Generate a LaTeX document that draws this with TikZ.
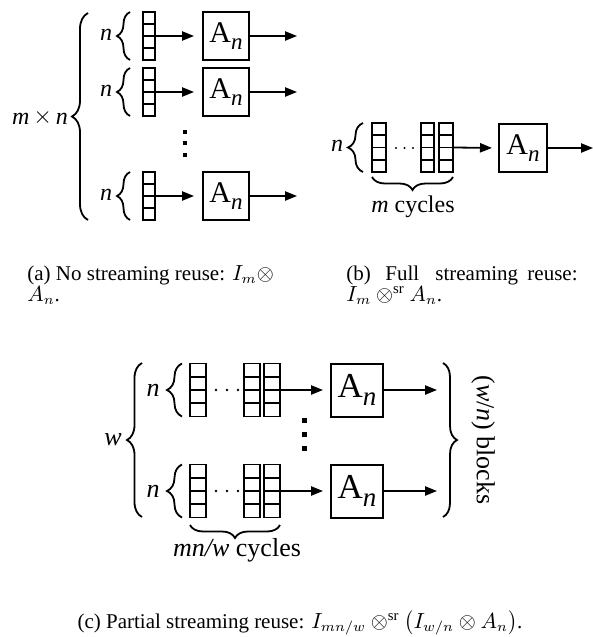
\documentclass[tikz,border=0pt]{standalone}
\usepackage{fontspec}
\setmainfont{Liberation Serif}
\usetikzlibrary{decorations.pathreplacing,arrows.meta,calc}
\tikzset{
  brc/.style={decorate,decoration={brace,amplitude=#1},line width=0.9pt},
  arr/.style={line width=0.9pt,-{Triangle[length=6pt,width=4.6pt]}},
  lab/.style={font=\fontsize{#1}{#1}\selectfont},
  cellcol/.style n args={2}{draw,line width=0.85pt,inner sep=0pt,minimum width=#1,minimum height=#2,
    path picture={\foreach \f in {0.25,0.5,0.75}{\draw[line width=0.85pt]
      ($(path picture bounding box.south west)!\f!(path picture bounding box.north west)$) --
      ($(path picture bounding box.south east)!\f!(path picture bounding box.north east)$);}}},
  anbox/.style n args={3}{draw,line width=1pt,inner sep=0pt,minimum width=#1,minimum height=#2,
    font=\fontsize{#3}{#3}\selectfont},
  captxt/.style={font=\fontsize{10.5}{12}\selectfont,inner sep=0pt}
}
\newcommand{\An}[1]{A\raisebox{-0.5ex}{\fontsize{#1}{#1}\selectfont\itshape n}}
\newcommand{\nodepth}[1]{\raisebox{0pt}[\height][0pt]{#1}}
\begin{document}
\begin{tikzpicture}[x=0.5pt,y=-0.5pt]
\useasboundingbox (0,0) rectangle (593,637);
% ---------------- (a) ----------------
\node[lab=12] (amn) at (40,117) {\itshape m\/\,\raisebox{0.1ex}{\upshape$\times$}\,n};
\draw[brc=8pt] (88,220) -- (88,13);
\foreach \r/\yy in {1/36,2/92,3/196}{
  \node[lab=12] (an\r) at (106,\yy-1) {\itshape n};
  \draw[brc=6.5pt] (130,\yy+24) -- (130,\yy-24);
  \node[cellcol={6.25pt}{24pt}] (ac\r) at (149,\yy) {};
  \node[anbox={23pt}{24pt}{15}] (ab\r) at (226,\yy) {\An{11.5}};
  \coordinate (ao\r) at (297,\yy);
  \draw[arr,shorten >=4pt] (ac\r.east) -- (ab\r.west);
  \draw[arr] (ab\r.east) -- (ao\r);
}
\foreach \yy in {132,143,155}{\fill (183,\yy-2) rectangle (187,\yy+2);}
% ---------------- (b) ----------------
\node[lab=12] (bn) at (337,146) {\itshape n};
\draw[brc=7.5pt] (363,172) -- (363,123);
\node[cellcol={7pt}{24.5pt}] (bc1) at (379,147.5) {};
\node[cellcol={6.75pt}{24.5pt}] (bc2) at (427.5,147.5) {};
\node[cellcol={7pt}{24.5pt}] (bc3) at (446,147.5) {};
\foreach \xx in {396,404.5,413}{\fill (\xx,148) circle (1.2);}
\node[anbox={24pt}{24pt}{15}] (bb) at (523,148) {\An{11.5}};
\coordinate (bo) at (593,148);
\draw[arr,shorten >=3pt] (bc3.east) -- (bb.west);
\draw[arr] (bb.east) -- (bo);
\draw[brc=6.5pt] (453,177) -- (372,177);
\node[lab=12] (bcyc) at (413,207) {\textit{m} cycles};
% ---------------- captions a,b ----------------
\node[captxt,anchor=base west] (capa1) at (27,280) {\nodepth{(a) No streaming reuse: $I_m \otimes$}};
\node[captxt,anchor=base west] (capa2) at (27,301) {$A_n$.};
\node[captxt,anchor=base west] (capb1a) at (346,280) {\nodepth{(b)}};
\node[captxt,anchor=base west] (capb1b) at (385,280) {\nodepth{Full}};
\node[captxt,anchor=base west] (capb1c) at (435,280) {\nodepth{streaming}};
\node[captxt,anchor=base east] (capb1d) at (578,280) {\nodepth{reuse:}};
\node[captxt,anchor=base west] (capb2) at (346,301) {$I_m \otimes^{\smash{\mathrm{sr}}} A_n$.};
% ---------------- (c) ----------------
\node[lab=13] (cw) at (113,440) {\itshape w};
\draw[brc=7.5pt] (142,517) -- (142,363);
\foreach \r/\yy in {1/390,2/491}{
  \node[lab=13] (cn\r) at (153,\yy) {\itshape n};
  \draw[brc=7.5pt] (182,\yy+26.5) -- (182,\yy-26.5);
  \node[cellcol={8pt}{26.5pt}] (cc\r a) at (198,\yy) {};
  \node[cellcol={8pt}{26.5pt}] (cc\r b) at (252,\yy) {};
  \node[cellcol={8pt}{26.5pt}] (cc\r c) at (272,\yy) {};
  \foreach \xx in {216,227,238}{\fill (\xx,\yy) circle (1.3);}
  \node[anbox={26pt}{26.5pt}{17.5}] (cb\r) at (357,\yy) {\An{13.5}};
  \coordinate (co\r) at (437,\yy);
  \draw[arr,shorten >=3.5pt] (cc\r c.east) -- (cb\r.west);
  \draw[arr] (cb\r.east) -- (co\r);
}
\foreach \yy in {420,434,448}{\fill (301.5,\yy-2.5) rectangle (306.5,\yy+2.5);}
\draw[brc=7pt] (443,363) -- (443,517);
\node[lab=13,rotate=-90] (cblk) at (483,440) {(\textit{w}/\textit{n}) blocks};
\draw[brc=6.5pt] (280,525) -- (190,525);
\node[lab=13] (ccyc) at (237,550) {\textit{mn/w} cycles};
\node[captxt,anchor=base] (capc) at (300,628) {(c) Partial streaming reuse: $I_{mn/w} \otimes^{\mathrm{sr}} \left(I_{w/n} \otimes A_n\right)$.};
\end{tikzpicture}
\end{document}
